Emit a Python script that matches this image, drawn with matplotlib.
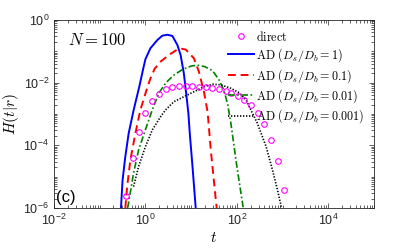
import numpy as np
import matplotlib
matplotlib.use("Agg")
import matplotlib.pyplot as plt
from matplotlib.ticker import LogLocator, NullFormatter

plt.rcParams['font.family'] = ['Liberation Sans', 'DejaVu Sans']
plt.rcParams['mathtext.fontset'] = 'cm'

# ---- data (log10 values) ----
direct_log_t = [-0.433, -0.279, -0.143, 0.0, 0.147, 0.292, 0.440, 0.587, 0.732, 0.879,
                1.026, 1.171, 1.319, 1.466, 1.611, 1.758, 1.879, 2.015, 2.160, 2.308,
                2.455, 2.600, 2.747, 2.890, 3.026]
direct_log_H = [-5.63, -4.41, -3.57, -2.98, -2.59, -2.35, -2.20, -2.13, -2.11, -2.11,
                -2.11, -2.13, -2.15, -2.18, -2.21, -2.27, -2.34, -2.43, -2.55, -2.72,
                -2.98, -3.33, -3.83, -4.50, -5.44]

ad1_log_t = [-0.535, -0.50, -0.44, -0.367, -0.257, -0.13, -0.04, 0.0, 0.11, 0.26, 0.37,
             0.48, 0.59, 0.70, 0.77, 0.84, 0.90, 0.94, 0.97, 1.03, 1.10]
ad1_log_H = [-6.0, -5.11, -4.36, -3.62, -2.87, -2.1, -1.5, -1.25, -0.9, -0.64, -0.5,
             -0.47, -0.51, -0.8, -1.12, -1.70, -2.45, -2.98, -3.62, -4.68, -6.0]

ad01_log_t = [-0.44, -0.40, -0.33, -0.22, -0.11, 0.01, 0.10, 0.20, 0.33, 0.51, 0.70,
              0.79, 0.88, 1.06, 1.17, 1.28, 1.36, 1.43, 1.54, 1.56]
ad01_log_H = [-6.0, -5.32, -4.47, -3.62, -2.87, -2.3, -1.9, -1.56, -1.33, -1.12, -0.94,
              -0.92, -0.94, -1.22, -1.65, -2.29, -2.93, -4.15, -5.74, -6.0]

ad001_log_t = [-0.39, -0.37, -0.26, -0.15, 0.0, 0.15, 0.29, 0.45, 0.62, 0.81, 1.0,
               1.14, 1.30, 1.47, 1.61, 1.72, 1.80, 1.87, 1.98, 2.09, 2.14]
ad001_log_H = [-6.0, -5.85, -4.89, -4.15, -3.5, -2.87, -2.34, -2.0, -1.76, -1.58, -1.47,
               -1.44, -1.49, -1.62, -1.91, -2.25, -2.7, -3.3, -4.47, -5.53, -6.0]

ad0001_log_t = [-0.26, -0.15, 0.0, 0.15, 0.33, 0.44, 0.62, 0.84, 1.06, 1.28, 1.47,
                1.65, 1.87, 2.05, 2.2, 2.45, 2.64, 2.78, 2.89, 2.97, 2.98]
ad0001_log_H = [-5.32, -4.68, -4.04, -3.51, -3.09, -2.87, -2.61, -2.45, -2.29, -2.13, -2.05,
                -2.07, -2.18, -2.32, -2.55, -3.3, -4.04, -4.79, -5.43, -5.95, -6.0]

labels = [r'$\mathrm{direct}$', r'$\mathrm{AD}\ (D_s/D_b = 1)$',
          r'$\mathrm{AD}\ (D_s/D_b = 0.1)$', r'$\mathrm{AD}\ (D_s/D_b = 0.01)$',
          r'$\mathrm{AD}\ (D_s/D_b = 0.001)$']

def tp(a):
    return 10.0 ** np.asarray(a)

fig = plt.figure(figsize=(4.14, 2.49), dpi=100)
ax = fig.add_axes([54/414, 1-208/249, 320/414, 188/249])

ax.plot(tp(direct_log_t), tp(direct_log_H), 'o', mfc='none', mec='#ff00ff',
        ms=4, mew=0.8, label=labels[0], zorder=5)
ax.plot(tp(ad1_log_t), tp(ad1_log_H), '-', color='#0000ff', lw=1.4, label=labels[1])
ax.plot(tp(ad01_log_t), tp(ad01_log_H), '--', color='#ff0000', lw=1.4,
        dashes=(4, 2.5), label=labels[2])
ax.plot(tp(ad001_log_t), tp(ad001_log_H), '-.', color='#008000', lw=1.2,
        dashes=(4, 1.5, 1, 1.5), label=labels[3])
ax.plot(tp(ad0001_log_t), tp(ad0001_log_H), ':', color='black', lw=1.2,
        dashes=(0.8, 1.0), label=labels[4])

ax.set_xscale('log')
ax.set_yscale('log')
ax.set_xlim(1e-2, 1e5)
ax.set_ylim(1e-6, 1e0)
ax.set_xticks([1e-2, 1e0, 1e2, 1e4])
ax.set_yticks([1e-6, 1e-4, 1e-2, 1e0])
ax.xaxis.set_minor_locator(LogLocator(base=10, subs=np.arange(1, 10), numticks=100))
ax.yaxis.set_minor_locator(LogLocator(base=10, subs=np.arange(1, 10), numticks=100))
ax.xaxis.set_minor_formatter(NullFormatter())
ax.yaxis.set_minor_formatter(NullFormatter())

gray = '#262626'
for s in ax.spines.values():
    s.set_color(gray)
    s.set_linewidth(0.6)
ax.tick_params(which='both', direction='in', top=True, right=True, colors=gray,
               labelcolor=gray, width=0.5, labelsize=9)
ax.tick_params(which='major', length=3.5)
ax.tick_params(which='minor', length=2)

ax.set_xlabel(r'$t$', fontsize=11, labelpad=2)
ax.set_ylabel(r'$H(t|r)$', fontsize=11, labelpad=2)

ax.text(0.044, 0.893, r'$N = 100$', transform=ax.transAxes, fontsize=12,
        va='center', ha='left')
ax.text(0.006, 0.055, '(c)', transform=ax.transAxes, fontsize=12,
        va='center', ha='left', color='black')

leg = ax.legend(loc='upper right', frameon=False, fontsize=8.7, handlelength=2.1,
                handletextpad=0.2, labelspacing=0.22, borderaxespad=0.4,
                borderpad=0.4)

fig.savefig('out.png', dpi=100)
